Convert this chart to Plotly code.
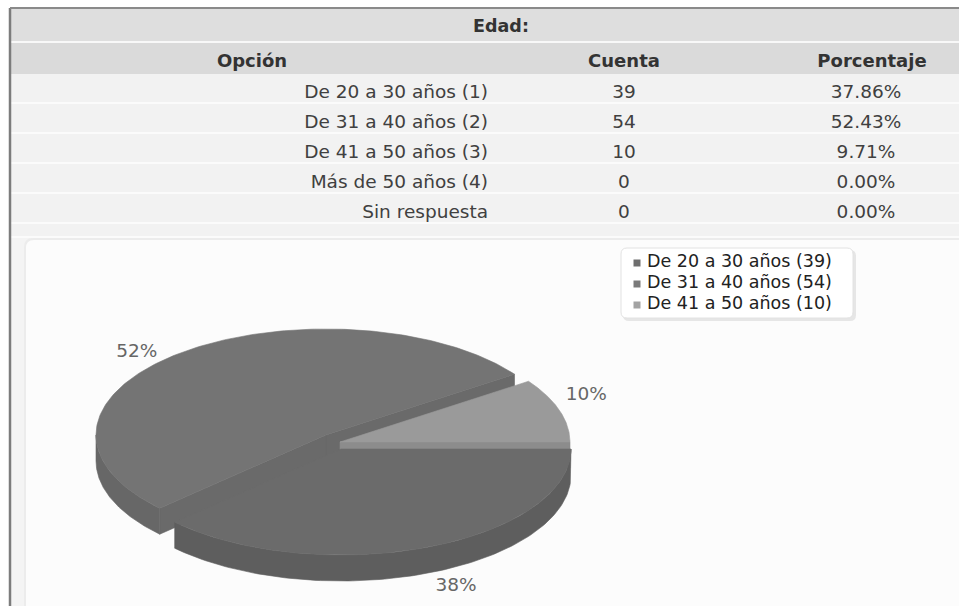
import numpy as np
import plotly.graph_objects as go

# ---------------- data ----------------
table_title = "Edad:"
headers = ["Opción", "Cuenta", "Porcentaje"]
options = ["De 20 a 30 años (1)", "De 31 a 40 años (2)", "De 41 a 50 años (3)",
           "Más de 50 años (4)", "Sin respuesta"]
counts = [39, 54, 10, 0, 0]
percents = ["37.86%", "52.43%", "9.71%", "0.00%", "0.00%"]

pie_names = ["De 20 a 30 años", "De 31 a 40 años", "De 41 a 50 años"]
pie_counts = [39, 54, 10]

# ---------------- style ----------------
W, H = 959, 606
FONT = "DejaVu Sans"
top_colors = ["#6b6b6b", "#747474", "#9a9a9a"]
side_colors = ["#5e5e5e", "#676767", "#8a8a8a"]
wall_colors = ["#636363", "#6a6a6a", "#8c8c8c"]
legend_colors = ["#6e6e6e", "#7a7a7a", "#a3a3a3"]
centers = [(341, 449), (326, 435), (340, 442)]
RX, RY, DEPTH = 230, 106, 26
label_nudges = [(8, -12), (-7, 20), (-28, -7)]

fig = go.Figure()
shapes = []


def rrect(x0, y0, x1, y1, r):
    return (f"M {x0+r} {y0} L {x1-r} {y0} Q {x1} {y0} {x1} {y0+r} "
            f"L {x1} {y1-r} Q {x1} {y1} {x1-r} {y1} L {x0+r} {y1} "
            f"Q {x0} {y1} {x0} {y1-r} L {x0} {y0+r} Q {x0} {y0} {x0+r} {y0} Z")


# background area inside the container
shapes.append(dict(type="rect", x0=10, x1=W + 5, y0=8, y1=H + 5,
                   fillcolor="#f4f4f4", line=dict(width=0), layer="below"))
# table rows
shapes.append(dict(type="rect", x0=10, x1=W + 5, y0=8, y1=41,
                   fillcolor="#dedede", line=dict(width=0), layer="below"))
shapes.append(dict(type="rect", x0=10, x1=W + 5, y0=41, y1=43,
                   fillcolor="#f8f8f8", line=dict(width=0), layer="below"))
shapes.append(dict(type="rect", x0=10, x1=W + 5, y0=43, y1=74,
                   fillcolor="#dadada", line=dict(width=0), layer="below"))
ROW0, ROWH = 74, 30
for i in range(len(options) + 1):
    y0 = ROW0 + i * ROWH
    y1 = y0 + (ROWH - 2 if i < len(options) else 12)
    shapes.append(dict(type="rect", x0=10, x1=W + 5, y0=y0, y1=y1,
                       fillcolor="#f2f2f2", line=dict(width=0), layer="below"))
    shapes.append(dict(type="rect", x0=10, x1=W + 5, y0=y1, y1=y1 + 2,
                       fillcolor="#fbfbfb", line=dict(width=0), layer="below"))

# pie panel
shapes.append(dict(type="path", path=rrect(24, 238, W + 30, H + 30, 9),
                   fillcolor="#ececec", line=dict(width=0), layer="below"))
shapes.append(dict(type="path", path=rrect(26, 240, W + 30, H + 30, 8),
                   fillcolor="#fcfcfc", line=dict(width=0), layer="below"))
# legend box
shapes.append(dict(type="path", path=rrect(623, 250, 856, 321, 6),
                   fillcolor="#e6e6e6", line=dict(width=0), layer="below"))
shapes.append(dict(type="path", path=rrect(621, 248, 853, 318, 6),
                   fillcolor="#ffffff", line=dict(color="#e2e2e2", width=1), layer="below"))
# outer borders
shapes.append(dict(type="line", x0=10, x1=10, y0=8, y1=H + 5,
                   line=dict(color="#7c7c7c", width=2.5)))
shapes.append(dict(type="line", x0=10, x1=W + 5, y0=8, y1=8,
                   line=dict(color="#8a8a8a", width=2)))

# ---------------- table text ----------------
fig.add_trace(go.Scatter(x=[501], y=[28], mode="text", text=[f"<b>{table_title}</b>"],
                         textfont=dict(family=FONT, size=17.5, color="#333333"),
                         hoverinfo="skip"))
fig.add_trace(go.Scatter(x=[252, 624, 872], y=[62, 62, 62], mode="text",
                         text=[f"<b>{h}</b>" for h in headers],
                         textfont=dict(family=FONT, size=18, color="#333333"),
                         hoverinfo="skip"))
row_y = [ROW0 + 19 + i * ROWH for i in range(len(options))]
fig.add_trace(go.Scatter(x=[488] * len(options), y=row_y, mode="text", text=options,
                         textposition="middle left",
                         textfont=dict(family=FONT, size=18.5, color="#404040"),
                         hoverinfo="skip"))
fig.add_trace(go.Scatter(x=[624] * len(counts), y=row_y, mode="text",
                         text=[str(c) for c in counts],
                         textfont=dict(family=FONT, size=18.5, color="#404040"),
                         hoverinfo="skip"))
fig.add_trace(go.Scatter(x=[866] * len(percents), y=row_y, mode="text", text=percents,
                         textfont=dict(family=FONT, size=18.5, color="#404040"),
                         hoverinfo="skip"))

# ---------------- 3D pie ----------------
vals = np.array(pie_counts, dtype=float)
fr = vals / vals.sum()
cum = np.concatenate([[0.0], np.cumsum(fr)])
TWO_PI = 2 * np.pi


def pt(cx, cy, t, z=0.0):
    return cx + RX * np.cos(t), cy - RY * np.sin(t) + z


def add_poly(xs, ys, color):
    fig.add_trace(go.Scatter(x=list(xs), y=list(ys), mode="lines", fill="toself",
                             fillcolor=color, line=dict(color=color, width=0.6),
                             hoverinfo="skip"))


slices = []
for k in range(len(vals)):
    lo = np.mod(-TWO_PI * cum[k + 1], TWO_PI)
    if lo > TWO_PI - 1e-9:
        lo = 0.0
    hi = lo + TWO_PI * fr[k]
    mid = (lo + hi) / 2
    slices.append((k, lo, hi, mid))

# painter's order: back slices first
order = sorted(slices, key=lambda s: -np.sin(s[3]))
for k, lo, hi, mid in order:
    cx, cy = centers[k]
    # radial walls
    for edge, visible in ((lo, np.cos(lo) > 1e-9), (hi, np.cos(hi) < -1e-9)):
        if visible:
            ex, ey = pt(cx, cy, edge)
            add_poly([cx, ex, ex, cx, cx], [cy, ey, ey + DEPTH, cy + DEPTH, cy], wall_colors[k])
    # outer visible side
    for a0, a1 in ((np.pi, TWO_PI), (3 * np.pi, 2 * TWO_PI)):
        a = max(lo, a0)
        b = min(hi, a1)
        if b - a > 1e-6:
            t = np.linspace(a, b, 120)
            xt, yt = pt(cx, cy, t)
            xb, yb = pt(cx, cy, t[::-1], DEPTH)
            add_poly(np.concatenate([xt, xb, xt[:1]]), np.concatenate([yt, yb, yt[:1]]),
                     side_colors[k])
    # top face
    t = np.linspace(lo, hi, 200)
    xt, yt = pt(cx, cy, t)
    add_poly(np.concatenate([[cx], xt, [cx]]), np.concatenate([[cy], yt, [cy]]), top_colors[k])

# percentage labels
lx, ly, lt = [], [], []
for k, lo, hi, mid in slices:
    cx, cy = centers[k]
    x, y = cx + 1.25 * RX * np.cos(mid), cy - 1.25 * RY * np.sin(mid)
    if np.sin(mid) < 0:
        y += DEPTH
    lx.append(x + label_nudges[k][0])
    ly.append(y + label_nudges[k][1])
    lt.append(f"{round(100 * fr[k]):.0f}%")
fig.add_trace(go.Scatter(x=lx, y=ly, mode="text", text=lt,
                         textfont=dict(family=FONT, size=18.5, color="#666666"),
                         hoverinfo="skip"))

# legend
leg_y = [263 + 21 * i for i in range(len(pie_names))]
fig.add_trace(go.Scatter(x=[637] * len(pie_names), y=leg_y, mode="markers",
                         marker=dict(symbol="square", size=7, color=legend_colors),
                         hoverinfo="skip"))
fig.add_trace(go.Scatter(x=[647] * len(pie_names), y=leg_y, mode="text",
                         text=[f"{n} ({c})" for n, c in zip(pie_names, pie_counts)],
                         textposition="middle right",
                         textfont=dict(family=FONT, size=17.5, color="#222222"),
                         hoverinfo="skip"))

fig.update_layout(
    width=W, height=H, margin=dict(l=0, r=0, t=0, b=0),
    paper_bgcolor="#ffffff", plot_bgcolor="#ffffff", showlegend=False,
    xaxis=dict(range=[0, W], visible=False, fixedrange=True),
    yaxis=dict(range=[H, 0], visible=False, fixedrange=True),
    shapes=shapes,
)
fig.write_html("out.html", config={"displayModeBar": False},
               post_script="document.body.style.margin='0px';document.body.style.overflow='hidden';")
